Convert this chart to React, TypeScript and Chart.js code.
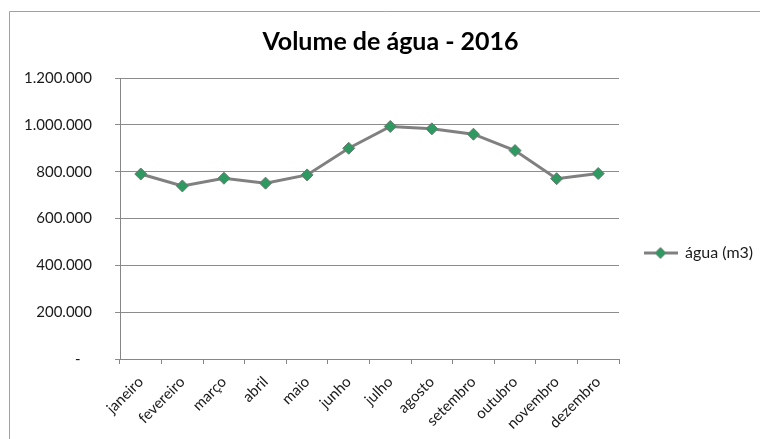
import React, { useEffect, useRef } from 'react';
import { Chart, registerables } from 'chart.js';

Chart.register(...registerables);

const chartTitle = 'Volume de água - 2016';
const seriesLabel = 'água (m3)';
const months = ['janeiro', 'fevereiro', 'março', 'abril', 'maio', 'junho', 'julho', 'agosto', 'setembro', 'outubro', 'novembro', 'dezembro'];
const aguaM3 = [790000, 739000, 772000, 751000, 786000, 900000, 993000, 983000, 960000, 890000, 770000, 792000];
const yTickLabels = ['-   ', '200.000', '400.000', '600.000', '800.000', '1.000.000', '1.200.000'];

const FONT = 'Lato';
const textColor = '#1a1a1a';
const axisColor = '#868686';
const gridColor = '#8c8c8c';
const lineColor = '#808080';
const markerFill = '#2E9960';
const markerBorder = '#6a7a70';

const framePlugin = {
  id: 'frame',
  beforeDraw(chart: any) {
    const ctx = chart.ctx;
    ctx.save();
    ctx.fillStyle = '#ffffff';
    ctx.fillRect(0, 0, chart.width, chart.height);
    ctx.strokeStyle = '#a0a0a0';
    ctx.lineWidth = 1;
    ctx.beginPath();
    ctx.moveTo(chart.width + 5, 11.5);
    ctx.lineTo(9.5, 11.5);
    ctx.lineTo(9.5, chart.height + 5);
    ctx.stroke();
    ctx.restore();
  },
};

function makeLegendMarker() {
  const mk = document.createElement('canvas');
  mk.width = 34;
  mk.height = 13;
  const c = mk.getContext('2d')!;
  c.strokeStyle = lineColor;
  c.lineWidth = 3;
  c.beginPath();
  c.moveTo(0, 6.5);
  c.lineTo(34, 6.5);
  c.stroke();
  c.beginPath();
  c.moveTo(17, 1);
  c.lineTo(22.5, 6.5);
  c.lineTo(17, 12);
  c.lineTo(11.5, 6.5);
  c.closePath();
  c.fillStyle = markerFill;
  c.fill();
  c.strokeStyle = markerBorder;
  c.lineWidth = 1;
  c.stroke();
  return mk;
}

export default function App() {
  const ref = useRef<HTMLCanvasElement>(null);

  useEffect(() => {
    document.body.style.margin = '0';
    if (!ref.current) return;
    const marker = makeLegendMarker();
    const tickFont = { family: FONT, size: 15 };
    const chart = new Chart(ref.current, {
      type: 'line',
      data: {
        labels: months,
        datasets: [
          {
            label: seriesLabel,
            data: aguaM3,
            borderColor: lineColor,
            backgroundColor: markerFill,
            borderWidth: 3,
            tension: 0,
            fill: false,
            pointStyle: 'rectRot',
            pointRadius: 6,
            pointHoverRadius: 6,
            pointBackgroundColor: markerFill,
            pointBorderColor: markerBorder,
            pointBorderWidth: 1,
          },
        ],
      },
      options: {
        responsive: false,
        animation: false,
        devicePixelRatio: 1,
        layout: { padding: { left: 24, right: 3, top: 0, bottom: 0 } },
        plugins: {
          title: {
            display: true,
            text: chartTitle,
            color: '#000',
            font: { family: FONT, size: 25, weight: 'bold', lineHeight: 1.2 },
            padding: { top: 27, bottom: 21 },
          },
          legend: {
            display: true,
            position: 'right',
            align: 'center',
            fullSize: true,
            maxWidth: 138,
            title: { display: true, text: ' ', font: { family: FONT, size: 10, lineHeight: 1.2 }, padding: { top: 55, bottom: 0 } },
            labels: {
              usePointStyle: true,
              pointStyle: marker as any,
              pointStyleWidth: 33,
              padding: 25,
              color: textColor,
              font: { family: FONT, size: 16 },
            },
          },
          tooltip: { enabled: false },
        },
        scales: {
          x: {
            type: 'category',
            offset: true,
            grid: { display: true, drawOnChartArea: false, drawTicks: true, tickLength: 5, offset: true, color: axisColor },
            border: { display: true, color: axisColor, width: 1 },
            ticks: { minRotation: 45, maxRotation: 45, autoSkip: false, padding: 9, color: textColor, font: tickFont },
            afterFit: (s: any) => { s.height = 80; },
          },
          y: {
            min: 0,
            max: 1200000,
            grid: { color: gridColor, tickLength: 5, drawTicks: true },
            border: { display: true, color: axisColor, width: 1 },
            ticks: {
              stepSize: 200000,
              padding: 23,
              color: textColor,
              font: tickFont,
              callback: (_v: any, i: number) => yTickLabels[i],
            },
            afterFit: (s: any) => { s.width = 96; },
          },
        },
      },
      plugins: [framePlugin],
    });
    return () => chart.destroy();
  }, []);

  return (
    <div style={{ width: 760, height: 439, position: 'relative' }}>
      <canvas ref={ref} width={760} height={439} style={{ display: 'block' }} />
    </div>
  );
}
